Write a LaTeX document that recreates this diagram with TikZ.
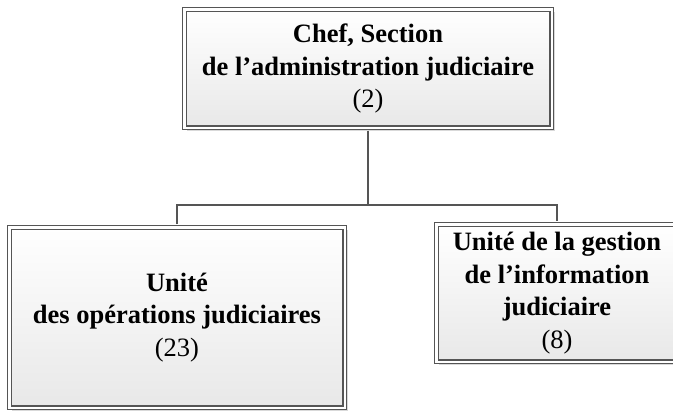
\documentclass[tikz,border=0pt]{standalone}
\usepackage{fontspec}
\setmainfont{Liberation Serif}
\usetikzlibrary{shadows}
\definecolor{boxline}{HTML}{555555}
\definecolor{boxbot}{HTML}{E8E8E8}
\begin{document}
\begin{tikzpicture}[x=1pt,y=-1pt,
  box/.style={draw=boxline, line width=1.1pt, double=white, double distance=2.4pt,
    top color=white, bottom color=boxbot,
    drop shadow={shadow xshift=3pt, shadow yshift=-3pt, fill=black!15, opacity=1},
    align=center, font=\fontsize{26.5}{32.5}\selectfont, inner sep=0pt},
  conn/.style={draw=boxline, line width=1.1pt}]
\useasboundingbox (0,0) rectangle (673,413);
\node[box, minimum width=367.4pt, minimum height=118.4pt] (top) at (368,68.5)
  {\bfseries Chef, Section\\ \bfseries de l’administration judiciaire\\ (2)};
\node[box, minimum width=335.4pt, minimum height=180.4pt] (left) at (177,317.5)
  {\bfseries Unité\\ \bfseries des opérations judiciaires\\ (23)};
\node[box, minimum width=241.4pt, minimum height=137.4pt] (right) at (557,293)
  {\bfseries Unité de la gestion\\ \bfseries de l’information\\ \bfseries judiciaire\\ (8)};
\coordinate (jl) at (177,205);
\coordinate (jr) at (557,205);
\draw[conn, shorten <=2.3pt] (top.south) -- (top.south |- jl);
\draw[conn, shorten <=2.3pt, shorten >=2.3pt] (left.north) -- (jl) -- (jr) -- (right.north);
\end{tikzpicture}
\end{document}
